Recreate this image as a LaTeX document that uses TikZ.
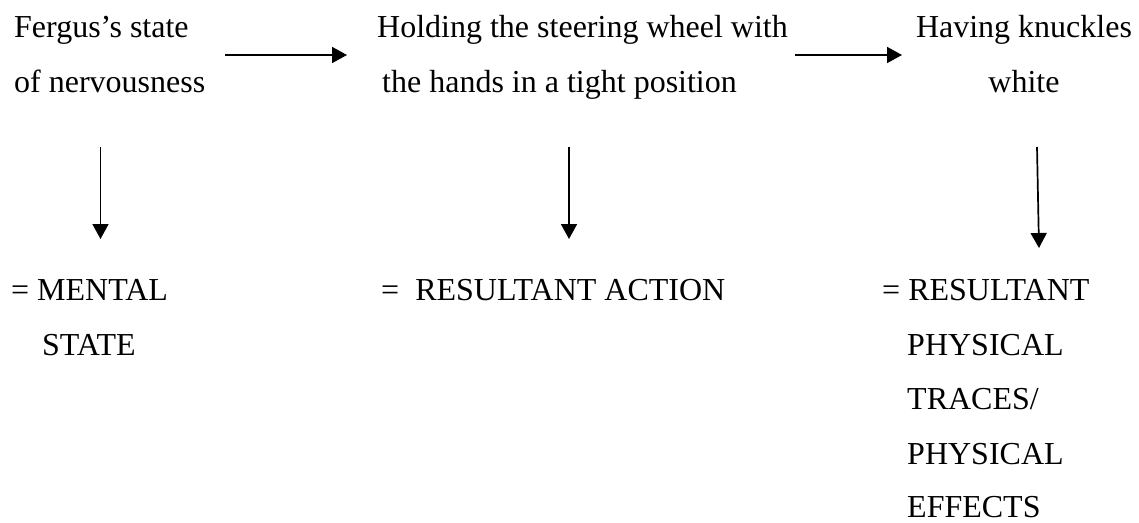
\documentclass[tikz,border=0pt]{standalone}
\usepackage{fontspec}
\setmainfont{Liberation Serif}
\usetikzlibrary{arrows.meta}
\begin{document}
\begin{tikzpicture}[x=1pt,y=-1pt,
  txt/.style={anchor=base west, inner sep=0pt, font=\fontsize{32}{38}\selectfont},
  ctxt/.style={txt, anchor=base},
  link/.style={line width=1.7pt, -{Triangle[length=15pt,width=16pt]}}]
\useasboundingbox (0,0) rectangle (1139,522);

% top row: the chain of events
\node[txt] (a1) at (14,37) {Fergus’s state};
\node[txt] (a2) at (14,92) {of nervousness};
\node[txt] (b1) at (377,37) {Holding the steering wheel with};
\node[txt] (b2) at (382,92) {the hands in a tight position};
\node[ctxt] (c1) at (1024,37) {Having knuckles};
\node[ctxt] (c2) at (1024,92) {white};

% bottom row: what each event stands for
\node[txt] (d1) at (11,300) {= MENTAL};
\node[txt] (d2) at (42,355) {STATE};
\node[txt] (e1) at (381,300) {=\ \ RESULTANT ACTION};
\node[txt] (f1) at (882,300) {= RESULTANT};
\node[txt] (f2) at (907,355) {PHYSICAL};
\node[txt] (f3) at (907,409) {TRACES/};
\node[txt] (f4) at (907,464) {PHYSICAL};
\node[txt] (f5) at (907,517) {EFFECTS};

% arrow end points
\coordinate (ab0) at (225,55);
\coordinate (ab1) at (347,55);
\coordinate (bc0) at (795,55);
\coordinate (bc1) at (902,55);
\coordinate (ad0) at (100.5,147);
\coordinate (ad1) at (100.5,239);
\coordinate (be0) at (569,147);
\coordinate (be1) at (569,239);
\coordinate (cf0) at (1037,147);
\coordinate (cf1) at (1039,248);

\draw[link] (ab0) -- (ab1);
\draw[link] (bc0) -- (bc1);
\draw[link] (ad0) -- (ad1);
\draw[link] (be0) -- (be1);
\draw[link] (cf0) -- (cf1);
\end{tikzpicture}
\end{document}
